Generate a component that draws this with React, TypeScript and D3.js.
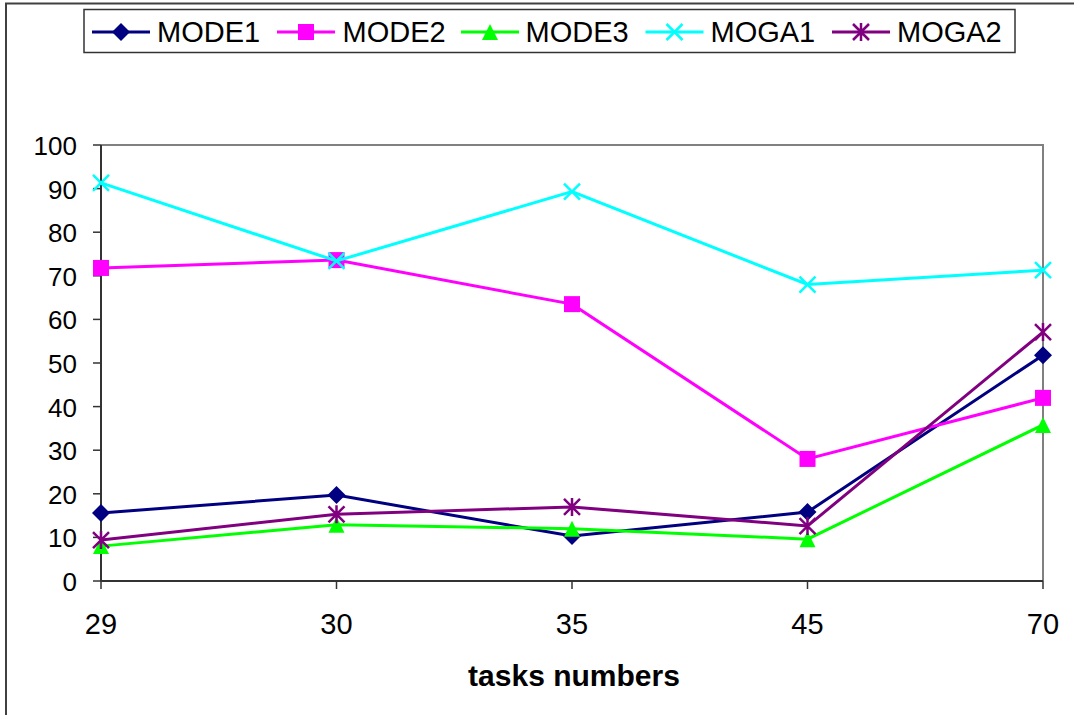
import React from "react";
import * as d3 from "d3";

const categories = ["29", "30", "35", "45", "70"];
const yTicks = [0, 10, 20, 30, 40, 50, 60, 70, 80, 90, 100];
const seriesNames = ["MODE1", "MODE2", "MODE3", "MOGA1", "MOGA2"];
const mode1 = [15.6, 19.7, 10.3, 15.8, 51.8];
const mode2 = [71.8, 73.6, 63.5, 28.0, 42.0];
const mode3 = [8.0, 12.9, 12.0, 9.6, 35.8];
const moga1 = [91.3, 73.4, 89.3, 68.0, 71.3];
const moga2 = [9.4, 15.3, 17.0, 12.6, 57.1];
const xTitle = "tasks numbers";

const colors = ["#000080", "#FF00FF", "#00FF00", "#00FFFF", "#800080"];
const markers = ["diamond", "square", "triangle", "x", "star"];
const seriesValues = [mode1, mode2, mode3, moga1, moga2];

const W = 1074, H = 715;
const L = 101, R = 1043, T = 145, B = 581;

function Marker({ type, x, y, color }: { type: string; x: number; y: number; color: string }) {
  const s = 8;
  if (type === "diamond")
    return <path d={`M${x},${y - s - 1}L${x + s + 1},${y}L${x},${y + s + 1}L${x - s - 1},${y}Z`} fill={color} />;
  if (type === "square")
    return <rect x={x - s} y={y - s} width={2 * s} height={2 * s} fill={color} />;
  if (type === "triangle")
    return <path d={`M${x},${y - s}L${x + s},${y + s}L${x - s},${y + s}Z`} fill={color} />;
  if (type === "x")
    return <path d={`M${x - s},${y - s}L${x + s},${y + s}M${x - s},${y + s}L${x + s},${y - s}`} stroke={color} strokeWidth={2.5} />;
  return (
    <path
      d={`M${x - s},${y - s}L${x + s},${y + s}M${x - s},${y + s}L${x + s},${y - s}M${x},${y - s - 1}L${x},${y + s + 1}`}
      stroke={color}
      strokeWidth={2.5}
    />
  );
}

export default function App() {
  const x = d3.scalePoint<string>().domain(categories).range([L, R]).padding(0);
  const y = d3.scaleLinear().domain([0, 100]).range([B, T]);
  const line = d3
    .line<number>()
    .x((_, i) => x(categories[i]) as number)
    .y((d) => y(d));

  const legendItems = [
    { x: 92, tx: 157 },
    { x: 277, tx: 342.5 },
    { x: 461, tx: 525.5 },
    { x: 645.5, tx: 710.5 },
    { x: 832, tx: 897 },
  ];
  const font = "'Liberation Sans', Arial, sans-serif";

  return (
    <svg width={W} height={H} style={{ position: "absolute", left: 0, top: 0, background: "#fff" }} fontFamily={font}>
      <rect x={0} y={0} width={W} height={H} fill="#fff" />
      {/* outer frame (partially cropped) */}
      <path d={`M6,${H + 5}V3.5H${W + 5}`} fill="none" stroke="#404040" strokeWidth={2} />

      {/* plot frame */}
      <path d={`M${L},${T}H${R}V${B}`} fill="none" stroke="#808080" strokeWidth={2} />
      <line x1={L} y1={T} x2={L} y2={B} stroke="#333" strokeWidth={2} />
      <line x1={L} y1={B} x2={R} y2={B} stroke="#333" strokeWidth={2} />

      {yTicks.map((t) => (
        <g key={t}>
          <line x1={L - 8} x2={L} y1={y(t)} y2={y(t)} stroke="#333" strokeWidth={1.5} />
          <text x={77} y={y(t) + 1} textAnchor="end" dominantBaseline="central" fontSize={26} fill="#000">
            {t}
          </text>
        </g>
      ))}
      {categories.map((c) => (
        <g key={c}>
          <line x1={x(c)} x2={x(c)} y1={B} y2={B + 8} stroke="#333" strokeWidth={1.5} />
          <text x={x(c)} y={624} textAnchor="middle" dominantBaseline="central" fontSize={29} fill="#000">
            {c}
          </text>
        </g>
      ))}
      <text
        x={574}
        y={675}
        textAnchor="middle"
        dominantBaseline="central"
        fontSize={30}
        fontWeight="bold"
        fill="#000"
      >
        {xTitle}
      </text>

      {seriesValues.map((vals, si) => (
        <g key={seriesNames[si]}>
          <path d={line(vals) || ""} fill="none" stroke={colors[si]} strokeWidth={3} />
          {vals.map((v, i) => (
            <Marker key={i} type={markers[si]} x={x(categories[i]) as number} y={y(v)} color={colors[si]} />
          ))}
        </g>
      ))}

      {/* legend */}
      <rect x={84} y={9.5} width={931} height={43} fill="#fff" stroke="#333" strokeWidth={1.5} />
      {seriesNames.map((n, si) => (
        <g key={n}>
          <line x1={legendItems[si].x} x2={legendItems[si].x + 58} y1={32} y2={32} stroke={colors[si]} strokeWidth={3} />
          <Marker type={markers[si]} x={legendItems[si].x + 29} y={32} color={colors[si]} />
          <text x={legendItems[si].tx} y={32} dominantBaseline="central" fontSize={29} fill="#000">
            {n}
          </text>
        </g>
      ))}
    </svg>
  );
}
